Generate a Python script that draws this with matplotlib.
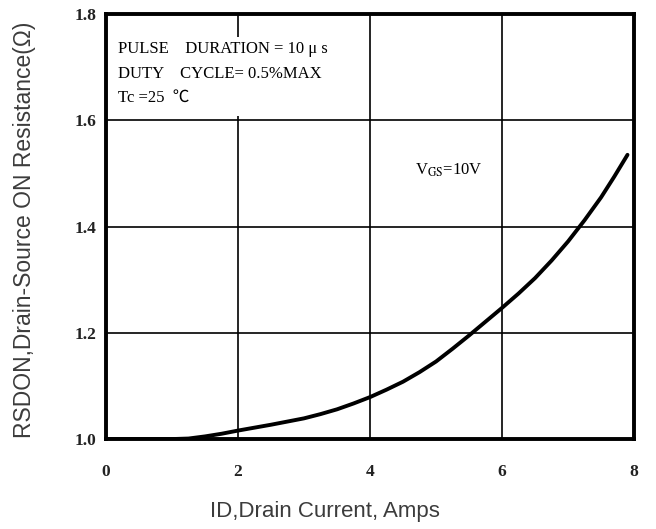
import matplotlib
matplotlib.use('Agg')
import matplotlib.pyplot as plt
from matplotlib.patches import Rectangle

# 数据：漏极电流与导通电阻
drain_current = [0, 0.5, 1.0, 1.25, 1.5, 1.75, 2.0, 2.25, 2.5, 2.75, 3.0, 3.25,
                 3.5, 3.75, 4.0, 4.25, 4.5, 4.75, 5.0, 5.25, 5.5, 5.75, 6.0,
                 6.25, 6.5, 6.75, 7.0, 7.25, 7.5, 7.7, 7.9]
on_resistance = [1.0, 1.0, 1.0, 1.001, 1.005, 1.010, 1.016, 1.0215, 1.027, 1.033,
                 1.039, 1.047, 1.056, 1.067, 1.079, 1.093, 1.108, 1.126, 1.146,
                 1.170, 1.195, 1.221, 1.247, 1.274, 1.303, 1.336, 1.372, 1.412,
                 1.455, 1.494, 1.535]

x_ticks = [0, 2, 4, 6, 8]
y_ticks = [1.0, 1.2, 1.4, 1.6, 1.8]
y_tick_labels = ['1.0', '1.2', '1.4', '1.6', '1.8']

note_lines = ['PULSE    DURATION = 10 \u03bc s',
              'DUTY    CYCLE= 0.5%MAX',
              'Tc =25  \u2103']
note_y = [1.734, 1.687, 1.642]

plt.rcParams['mathtext.fontset'] = 'stix'
serif = ['Liberation Serif', 'Noto Sans CJK SC', 'DejaVu Sans']

fig = plt.figure(figsize=(6.56, 5.29), dpi=100)
ax = fig.add_axes([0.1616, 0.170, 0.805, 0.8035])

ax.plot(drain_current, on_resistance, color='black', lw=2.8,
        solid_joinstyle='round', solid_capstyle='round', zorder=3)

ax.set_xlim(0, 8)
ax.set_ylim(1.0, 1.8)
ax.set_xticks(x_ticks)
ax.set_yticks(y_ticks)
ax.set_yticklabels(y_tick_labels)
ax.grid(True, color='black', lw=1.2)
ax.tick_params(length=0, labelsize=12.5)
ax.tick_params(axis='x', pad=18)
ax.tick_params(axis='y', pad=7)
for lab in ax.get_xticklabels() + ax.get_yticklabels():
    lab.set_family(serif)
    lab.set_fontweight('bold')
    lab.set_color('#222222')
for sp in ax.spines.values():
    sp.set_linewidth(2.8)
    sp.set_zorder(4)

# 文字说明框（白底遮住网格线）
ax.add_patch(Rectangle((0.04, 1.608), 3.75, 0.149, facecolor='white',
                       edgecolor='none', zorder=2))
for line, yy in zip(note_lines, note_y):
    ax.text(0.18, yy, line, family=serif, fontsize=12,
            va='center', ha='left', zorder=3)

ax.text(4.68, 1.505, r'V$_{\mathrm{GS}}$=10V', family=serif,
        fontsize=12, va='center', ha='left', zorder=3)

# 坐标轴标题
fig.text(325 / 656, 1 - 511 / 529, 'ID,Drain Current, Amps',
         family='Liberation Sans', fontsize=16, color='#3c3c3c',
         ha='center', va='center')
fig.text(25 / 656, 1 - 230 / 529, 'RSDON,Drain-Source ON Resistance(\u03a9)',
         family='Liberation Sans', fontsize=16.5, color='#3c3c3c',
         rotation=90, ha='center', va='center')

plt.savefig('out.png', dpi=100)
